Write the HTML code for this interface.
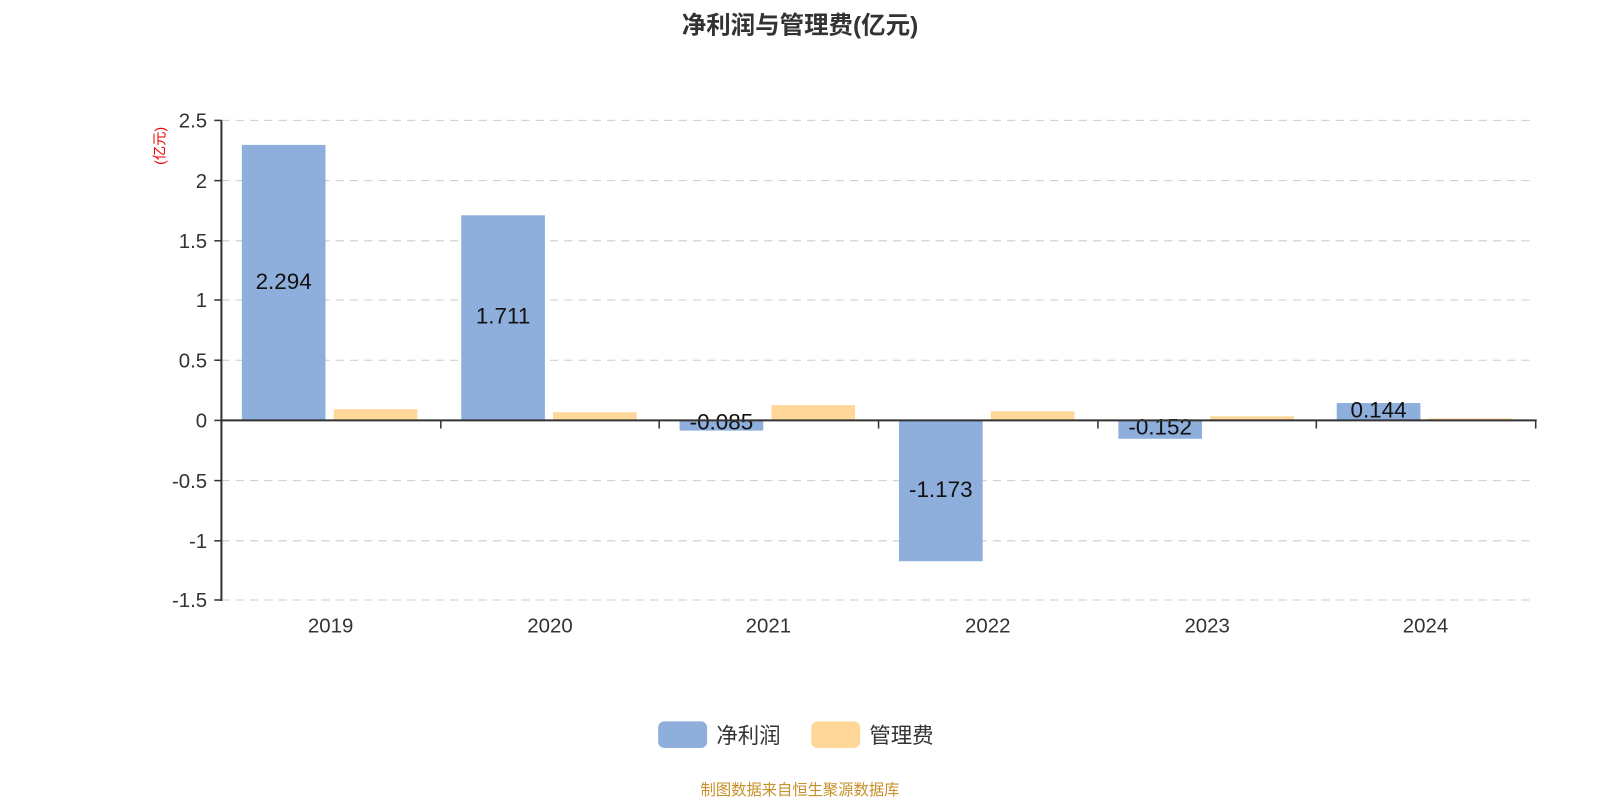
<!DOCTYPE html>
<html><head><meta charset="utf-8"><style>
body{margin:0;background:#fff;}
text{font-family:"Liberation Sans","Noto Sans CJK SC",sans-serif;}
</style></head><body>
<svg width="1600" height="800" xmlns="http://www.w3.org/2000/svg">
<g transform="scale(1.0204)">
<text x="784" y="33" text-anchor="middle" font-size="24" font-weight="bold" fill="#333">净利润与管理费(亿元)</text>
<g stroke="#ccc" stroke-width="1" stroke-dasharray="8,6">
<line x1="217" y1="118" x2="1505" y2="118"/><line x1="217" y1="177" x2="1505" y2="177"/>
<line x1="217" y1="236" x2="1505" y2="236"/><line x1="217" y1="294" x2="1505" y2="294"/>
<line x1="217" y1="353" x2="1505" y2="353"/><line x1="217" y1="471" x2="1505" y2="471"/>
<line x1="217" y1="530" x2="1505" y2="530"/><line x1="217" y1="588" x2="1505" y2="588"/>
</g>
<g fill="#8eaedb">
<rect x="237" y="142" width="82" height="270"/>
<rect x="452" y="211" width="82" height="201"/>
<rect x="666" y="412" width="82" height="10"/>
<rect x="881" y="412" width="82" height="138"/>
<rect x="1096" y="412" width="82" height="18"/>
<rect x="1310" y="395" width="82" height="17"/>
</g>
<g fill="#ffd899">
<rect x="327" y="401" width="82" height="11"/>
<rect x="542" y="404" width="82" height="8"/>
<rect x="756" y="397" width="82" height="15"/>
<rect x="971" y="403" width="82" height="9"/>
<rect x="1186" y="408" width="82" height="4"/>
<rect x="1400" y="410" width="82" height="2"/>
</g>
<g font-size="22" fill="#111" text-anchor="middle">
<text x="278" y="283">2.294</text>
<text x="493" y="317">1.711</text>
<text x="707" y="421">-0.085</text>
<text x="922" y="487">-1.173</text>
<text x="1137" y="426">-0.152</text>
<text x="1351" y="409">0.144</text>
</g>
<g stroke="#333" stroke-width="2">
<line x1="217" y1="118" x2="217" y2="589"/>
<line x1="216" y1="412" x2="1506" y2="412"/>
</g>
<g stroke="#333" stroke-width="1.5">
<line x1="210" y1="118" x2="217" y2="118"/><line x1="210" y1="177" x2="217" y2="177"/>
<line x1="210" y1="236" x2="217" y2="236"/><line x1="210" y1="294" x2="217" y2="294"/>
<line x1="210" y1="353" x2="217" y2="353"/><line x1="210" y1="412" x2="217" y2="412"/>
<line x1="210" y1="471" x2="217" y2="471"/><line x1="210" y1="530" x2="217" y2="530"/>
<line x1="210" y1="588" x2="217" y2="588"/>
<line x1="217" y1="412" x2="217" y2="420"/><line x1="432" y1="412" x2="432" y2="420"/>
<line x1="646" y1="412" x2="646" y2="420"/><line x1="861" y1="412" x2="861" y2="420"/>
<line x1="1076" y1="412" x2="1076" y2="420"/><line x1="1290" y1="412" x2="1290" y2="420"/>
<line x1="1505" y1="412" x2="1505" y2="420"/>
</g>
<g font-size="20" fill="#333" text-anchor="end">
<text x="203" y="125">2.5</text><text x="203" y="184">2</text><text x="203" y="243">1.5</text>
<text x="203" y="301">1</text><text x="203" y="360">0.5</text><text x="203" y="419">0</text>
<text x="203" y="478">-0.5</text><text x="203" y="537">-1</text><text x="203" y="595">-1.5</text>
</g>
<text transform="translate(161,143) rotate(-90)" text-anchor="middle" font-size="14" fill="#e00">(亿元)</text>
<g font-size="20" fill="#333" text-anchor="middle">
<text x="324" y="620">2019</text><text x="539" y="620">2020</text><text x="753" y="620">2021</text>
<text x="968" y="620">2022</text><text x="1183" y="620">2023</text><text x="1397" y="620">2024</text>
</g>
<rect x="645" y="707" width="48" height="26" rx="6" fill="#8eaedb"/>
<text x="702" y="728" font-size="21" fill="#333">净利润</text>
<rect x="795" y="707" width="48" height="26" rx="6" fill="#ffd899"/>
<text x="852" y="728" font-size="21" fill="#333">管理费</text>
<text x="784" y="779" text-anchor="middle" font-size="15" fill="#c8902a">制图数据来自恒生聚源数据库</text>
</g>
</svg>
</body></html>
